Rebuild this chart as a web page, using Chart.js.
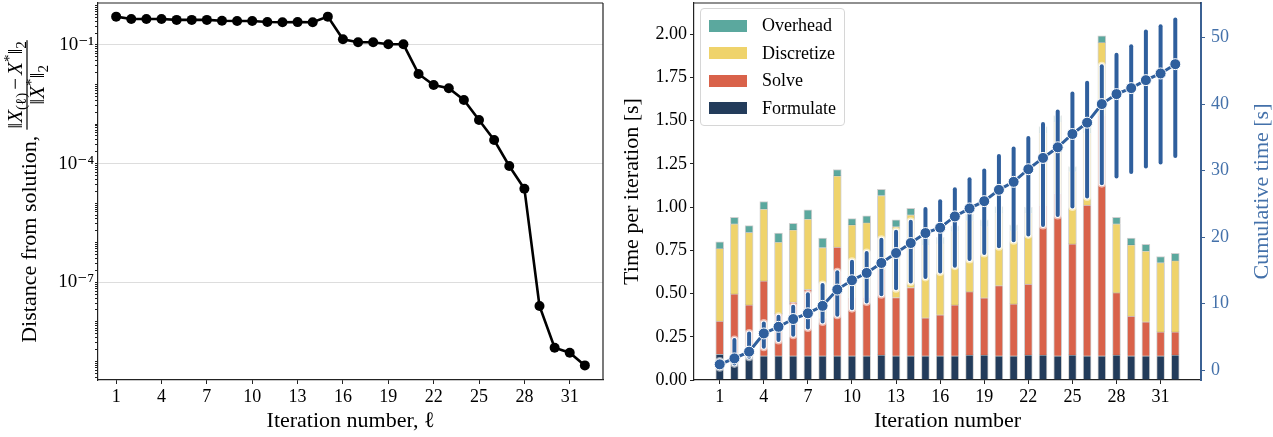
<!DOCTYPE html>
<html>
<head>
<meta charset="utf-8">
<script src="https://cdn.jsdelivr.net/npm/chart.js@4.4.1/dist/chart.umd.min.js"></script>
<style>
  html, body { margin: 0; padding: 0; background: #fff; }
  #wrap { position: relative; width: 1273px; height: 437px; }
  #leftBox { position: absolute; left: 0; top: 0; width: 615px; height: 437px; }
  #rightBox { position: absolute; left: 615px; top: 0; width: 658px; height: 437px; }
  #legend {
    position: absolute; left: 85px; top: 8px; width: 143px;
    padding: 3px 0 3px 0; box-sizing: content-box;
    border: 1px solid #d6d6d6; border-radius: 4px; background: rgba(255,255,255,0.85);
    font-family: 'Liberation Serif', 'DejaVu Serif', serif; font-size: 18px; color: #000;
  }
  #legend .item { display: flex; align-items: center; height: 27.5px; }
  #legend .patch { width: 38px; height: 12px; margin-left: 8px; margin-right: 15px; }
</style>
</head>
<body>
<div id="wrap">
  <div id="leftBox"><canvas id="distChart" width="615" height="437"></canvas></div>
  <div id="rightBox">
    <canvas id="timeChart" width="658" height="437"></canvas>
    <div id="legend"></div>
  </div>
</div>
<script>
const SERIF = "'Liberation Serif', 'DejaVu Serif', serif";
Chart.defaults.font.family = SERIF;
Chart.defaults.color = '#000';

// ---- data ----
const ITERATIONS = [1, 2, 3, 4, 5, 6, 7, 8, 9, 10, 11, 12, 13, 14, 15, 16,
                    17, 18, 19, 20, 21, 22, 23, 24, 25, 26, 27, 28, 29, 30, 31, 32];
const X_TICKS = [1, 4, 7, 10, 13, 16, 19, 22, 25, 28, 31];

// relative distance from solution (left panel)
const DISTANCE = [0.52, 0.454, 0.454, 0.454, 0.43, 0.43, 0.43, 0.41, 0.405, 0.405, 0.382,
                  0.375, 0.378, 0.375, 0.52, 0.139, 0.117, 0.117, 0.104, 0.104, 0.0185,
                  0.00975, 0.00804, 0.00406, 0.00127, 3.96e-4, 8.75e-5, 2.33e-5, 2.52e-8,
                  2.22e-9, 1.66e-9, 7.96e-10];
const LOG_TICK_VALUES = [1e-1, 1e-4, 1e-7];
const LOG_TICK_LABELS = ['10⁻¹', '10⁻⁴', '10⁻⁷'];

// time per iteration [s], stacked (right panel)
const FORMULATE = [0.15, 0.14, 0.14, 0.14, 0.14, 0.14, 0.14, 0.14, 0.14, 0.14, 0.14, 0.145,
                   0.14, 0.14, 0.14, 0.14, 0.14, 0.145, 0.145, 0.14, 0.14, 0.145, 0.145, 0.14,
                   0.145, 0.14, 0.14, 0.145, 0.14, 0.14, 0.14, 0.145];
const SOLVE = [0.19, 0.358, 0.294, 0.433, 0.242, 0.311, 0.385, 0.22, 0.629, 0.34, 0.34, 0.495,
               0.337, 0.395, 0.22, 0.237, 0.294, 0.366, 0.33, 0.406, 0.30, 0.41, 0.867, 0.94,
               0.642, 0.872, 1.393, 0.36, 0.23, 0.197, 0.138, 0.133];
const DISCRETIZE = [0.421, 0.405, 0.42, 0.416, 0.415, 0.417, 0.406, 0.406, 0.411, 0.417, 0.43,
                    0.427, 0.41, 0.42, 0.42, 0.413, 0.424, 0.411, 0.412, 0.419, 0.424, 0.41,
                    0.416, 0.414, 0.418, 0.416, 0.419, 0.398, 0.411, 0.409, 0.401, 0.412];
const OVERHEAD = [0.038, 0.038, 0.039, 0.043, 0.052, 0.038, 0.053, 0.055, 0.037, 0.036, 0.04,
                  0.036, 0.039, 0.038, 0.035, 0.035, 0.034, 0.036, 0.039, 0.038, 0.033, 0.035,
                  0.038, 0.035, 0.029, 0.038, 0.038, 0.038, 0.039, 0.039, 0.035, 0.043];
const TIME_TICKS = [0, 0.25, 0.5, 0.75, 1.0, 1.25, 1.5, 1.75, 2.0];

// cumulative time [s] with spread
const CUMULATIVE = [0.85, 1.75, 2.76, 5.5, 6.5, 7.67, 8.53, 9.65, 12.1, 13.5, 14.6, 16.1, 17.6,
                    19.1, 20.6, 21.4, 23.1, 24.3, 25.4, 27.1, 28.3, 30.2, 31.9, 33.5, 35.5,
                    37.2, 40.0, 41.5, 42.4, 43.6, 44.6, 46.0];
const CUMULATIVE_LOW = [0.4, 1.0, 2.0, 3.5, 4.5, 5.3, 6.4, 7.3, 8.3, 9.3, 10.3, 11.4, 12.3, 13.3,
                        14.0, 14.8, 15.7, 16.7, 17.6, 18.6, 19.5, 20.4, 21.8, 23.3, 24.6, 26.1,
                        28.1, 29.1, 29.8, 30.6, 31.2, 32.2];
const CUMULATIVE_HIGH = [1.3, 4.5, 5.5, 7.0, 8.0, 9.5, 11.4, 12.8, 14.7, 16.3, 17.6, 19.6, 20.8,
                         22.3, 24.2, 25.4, 27.2, 28.7, 30.0, 32.2, 33.3, 34.9, 37.0, 38.9, 41.6,
                         43.2, 45.7, 47.4, 48.7, 50.9, 51.7, 52.7];
const CUMULATIVE_TICKS = [0, 10, 20, 30, 40, 50];

const DIST_X_TITLE = 'Iteration number, ℓ';
const DIST_Y_TITLE = 'Distance from solution,';
const TIME_X_TITLE = 'Iteration number';
const TIME_Y_TITLE = 'Time per iteration [s]';
const CUM_Y_TITLE = 'Cumulative time [s]';

const LINE_BLUE = '#2f5f9d';
const AXIS_BLUE = '#3b6194';
const TEXT_BLUE = '#4471aa';
const SPINE = '#222';

const isLabelled = v => LOG_TICK_VALUES.some(t => Math.abs(Math.log10(t) - Math.log10(v)) < 1e-6);

// fixed axis sizes, no extra label padding
const fixHeight = h => s => { s.height = h; s.paddingLeft = 0; s.paddingRight = 0; s.paddingTop = 0; s.paddingBottom = 0; };
const fixWidth = w => s => { s.width = w; s.paddingLeft = 0; s.paddingRight = 0; s.paddingTop = 0; s.paddingBottom = 0; };

// box around the plot area
const frame = sides => ({
  id: 'frame',
  afterDatasetsDraw(chart) {
    const {ctx, chartArea: a} = chart;
    ctx.save();
    ctx.strokeStyle = SPINE;
    ctx.lineWidth = 1.2;
    ctx.beginPath();
    ctx.moveTo(a.left, a.top); ctx.lineTo(a.right, a.top);
    if (sides.right) { ctx.moveTo(a.right, a.top); ctx.lineTo(a.right, a.bottom); }
    ctx.stroke();
    ctx.restore();
  }
});

// y label of the left panel with the fraction
const drawRuns = (ctx, runs, x, y, measureOnly) => {
  let w = 0;
  runs.forEach(r => {
    ctx.font = (r.italic ? 'italic ' : '') + r.size + 'px ' + SERIF;
    if (!measureOnly) ctx.fillText(r.t, x + w + (r.pre || 0), y + (r.dy || 0));
    w += ctx.measureText(r.t).width + (r.pre || 0) + (r.post || 0);
  });
  return w;
};
const distTitle = {
  id: 'distTitle',
  afterDraw(chart) {
    const {ctx, chartArea: a} = chart;
    const num = [
      {t: '‖', size: 21}, {t: 'X', size: 21, italic: true}, {t: '(ℓ)', size: 15, dy: 4},
      {t: '−', size: 21, pre: 3, post: 3}, {t: 'X', size: 21, italic: true},
      {t: '*', size: 15, dy: -8}, {t: '‖', size: 21}, {t: '2', size: 15, dy: 4}
    ];
    const den = [
      {t: '‖', size: 21}, {t: 'X', size: 21, italic: true}, {t: '*', size: 15, dy: -8},
      {t: '‖', size: 21}, {t: '2', size: 15, dy: 4}
    ];
    ctx.save();
    ctx.fillStyle = '#000';
    ctx.textBaseline = 'alphabetic';
    ctx.font = '22px ' + SERIF;
    const w1 = ctx.measureText(DIST_Y_TITLE).width;
    const wn = drawRuns(ctx, num, 0, 0, true);
    const wd = drawRuns(ctx, den, 0, 0, true);
    const wf = Math.max(wn, wd) + 2;
    const gap = 6;
    const total = w1 + gap + wf;
    ctx.translate(27, (a.top + a.bottom) / 2);
    ctx.rotate(-Math.PI / 2);
    const x0 = -total / 2;
    ctx.font = '22px ' + SERIF;
    ctx.fillText(DIST_Y_TITLE, x0, 9);
    const fx = x0 + w1 + gap;
    drawRuns(ctx, num, fx + (wf - wn) / 2, -5);
    drawRuns(ctx, den, fx + (wf - wd) / 2, 17);
    ctx.fillRect(fx, -0.6, wf, 1.2);
    ctx.restore();
  }
};

new Chart(document.getElementById('distChart'), {
  type: 'line',
  data: {
    datasets: [{
      data: ITERATIONS.map((it, i) => ({x: it, y: DISTANCE[i]})),
      borderColor: '#000',
      backgroundColor: '#000',
      borderWidth: 2.6,
      pointRadius: 5,
      pointBackgroundColor: '#000',
      pointBorderWidth: 0,
      tension: 0
    }]
  },
  options: {
    responsive: false,
    animation: false,
    events: [],
    layout: {padding: {top: 3, right: 12, left: 0, bottom: 0}, autoPadding: false},
    plugins: {legend: {display: false}, tooltip: {enabled: false}},
    scales: {
      x: {
        type: 'linear', min: -0.2, max: 33.2,
        afterBuildTicks: s => { s.ticks = X_TICKS.map(v => ({value: v})); },
        afterFit: fixHeight(57),
        grid: {drawOnChartArea: false, color: SPINE, tickLength: 4},
        border: {color: SPINE, width: 1.2},
        ticks: {font: {size: 18}, color: '#000', padding: 2, maxRotation: 0, autoSkip: false},
        title: {display: true, text: DIST_X_TITLE, font: {size: 22}, color: '#000', padding: {top: 0, bottom: 3}}
      },
      y: {
        type: 'logarithmic', min: 3.4e-10, max: 1.15,
        afterBuildTicks: s => {
          const ticks = [];
          for (let e = -10; e <= 0; e++) {
            for (let k = 1; k <= 9; k++) {
              const v = k * Math.pow(10, e);
              if (v >= s.min && v <= s.max) ticks.push({value: v});
            }
          }
          s.ticks = ticks;
        },
        afterFit: fixWidth(98),
        grid: {
          color: c => (c.tick && isLabelled(c.tick.value)) ? '#dddddd' : 'rgba(0,0,0,0)',
          tickColor: SPINE, tickLength: 3, lineWidth: 1
        },
        border: {color: SPINE, width: 1.2},
        ticks: {
          font: {size: 19}, color: '#000', padding: 1, autoSkip: false,
          callback: v => {
            const i = LOG_TICK_VALUES.findIndex(t => Math.abs(Math.log10(t) - Math.log10(v)) < 1e-6);
            return i >= 0 ? LOG_TICK_LABELS[i] : '';
          }
        }
      }
    }
  },
  plugins: [frame({right: true}), distTitle]
});

// vertical spread bars behind the cumulative line
const errorBars = {
  id: 'errorBars',
  beforeDatasetDraw(chart, args) {
    if (args.index !== 0) return;
    const {ctx} = chart;
    const xs = chart.scales.x, ys = chart.scales.y2;
    ctx.save();
    ctx.lineCap = 'round';
    ITERATIONS.forEach((it, i) => {
      const x = xs.getPixelForValue(it);
      const top = ys.getPixelForValue(CUMULATIVE_HIGH[i]);
      const bot = ys.getPixelForValue(CUMULATIVE_LOW[i]);
      [['rgba(255,255,255,0.55)', 9], ['#fff', 6], [LINE_BLUE, 4]].forEach(([c, w]) => {
        ctx.strokeStyle = c;
        ctx.lineWidth = w;
        ctx.beginPath();
        ctx.moveTo(x, bot);
        ctx.lineTo(x, top);
        ctx.stroke();
      });
    });
    ctx.restore();
  }
};

const cumTitle = {
  id: 'cumTitle',
  afterDraw(chart) {
    const {ctx, chartArea: a} = chart;
    ctx.save();
    ctx.translate(647, (a.top + a.bottom) / 2);
    ctx.rotate(-Math.PI / 2);
    ctx.font = '22px ' + SERIF;
    ctx.fillStyle = TEXT_BLUE;
    ctx.textAlign = 'center';
    ctx.textBaseline = 'middle';
    ctx.fillText(CUM_Y_TITLE, 0, 0);
    ctx.restore();
  }
};

const barSet = (label, values, color) => ({
  label,
  data: ITERATIONS.map((it, i) => ({x: it, y: values[i]})),
  backgroundColor: color,
  borderColor: 'rgba(40,40,40,0.22)',
  borderWidth: 1,
  barThickness: 8,
  yAxisID: 'y'
});

const timeChart = new Chart(document.getElementById('timeChart'), {
  type: 'bar',
  data: {
    datasets: [
      {
        type: 'line',
        label: 'Cumulative',
        data: ITERATIONS.map((it, i) => ({x: it, y: CUMULATIVE[i]})),
        yAxisID: 'y2',
        borderColor: LINE_BLUE,
        backgroundColor: LINE_BLUE,
        borderWidth: 3,
        pointRadius: 5.5,
        pointBackgroundColor: LINE_BLUE,
        pointBorderColor: '#fff',
        pointBorderWidth: 1,
        tension: 0
      },
      barSet('Formulate', FORMULATE, '#233c5b'),
      barSet('Solve', SOLVE, '#d9624a'),
      barSet('Discretize', DISCRETIZE, '#efd36b'),
      barSet('Overhead', OVERHEAD, '#5ba89e')
    ]
  },
  options: {
    responsive: false,
    animation: false,
    events: [],
    layout: {padding: {top: 3, right: 0, left: 0, bottom: 0}, autoPadding: false},
    plugins: {legend: {display: false}, tooltip: {enabled: false}},
    scales: {
      x: {
        type: 'linear', min: -0.75, max: 33.75, stacked: true, offset: false,
        afterBuildTicks: s => { s.ticks = X_TICKS.map(v => ({value: v})); },
        afterFit: fixHeight(57),
        grid: {drawOnChartArea: false, color: SPINE, tickLength: 4, offset: false},
        border: {color: SPINE, width: 1.2},
        ticks: {font: {size: 18}, color: '#000', padding: 2, maxRotation: 0, autoSkip: false},
        title: {display: true, text: TIME_X_TITLE, font: {size: 22}, color: '#000', padding: {top: 0, bottom: 3}}
      },
      y: {
        position: 'left', stacked: true, min: 0, max: 2.18,
        afterBuildTicks: s => { s.ticks = TIME_TICKS.map(v => ({value: v})); },
        afterFit: fixWidth(79),
        grid: {drawOnChartArea: false, color: SPINE, tickLength: 4},
        border: {color: SPINE, width: 1.2},
        ticks: {font: {size: 18}, color: '#000', padding: 3, autoSkip: false, callback: v => v.toFixed(2)},
        title: {display: true, text: TIME_Y_TITLE, font: {size: 22}, color: '#000', padding: {top: 4, bottom: 0}}
      },
      y2: {
        position: 'right', min: -1.5, max: 55.2,
        afterBuildTicks: s => { s.ticks = CUMULATIVE_TICKS.map(v => ({value: v})); },
        afterFit: fixWidth(72),
        grid: {drawOnChartArea: false, color: AXIS_BLUE, tickLength: 4},
        border: {color: AXIS_BLUE, width: 2},
        ticks: {font: {size: 18}, color: TEXT_BLUE, padding: 6, autoSkip: false}
      }
    }
  },
  plugins: [errorBars, frame({right: false}), cumTitle]
});

// legend inside the plot area, top-left
const legendEl = document.getElementById('legend');
timeChart.data.datasets.slice(1).reverse().forEach(ds => {
  const item = document.createElement('div');
  item.className = 'item';
  const patch = document.createElement('span');
  patch.className = 'patch';
  patch.style.background = ds.backgroundColor;
  const text = document.createElement('span');
  text.textContent = ds.label;
  item.appendChild(patch);
  item.appendChild(text);
  legendEl.appendChild(item);
});
</script>
</body>
</html>
